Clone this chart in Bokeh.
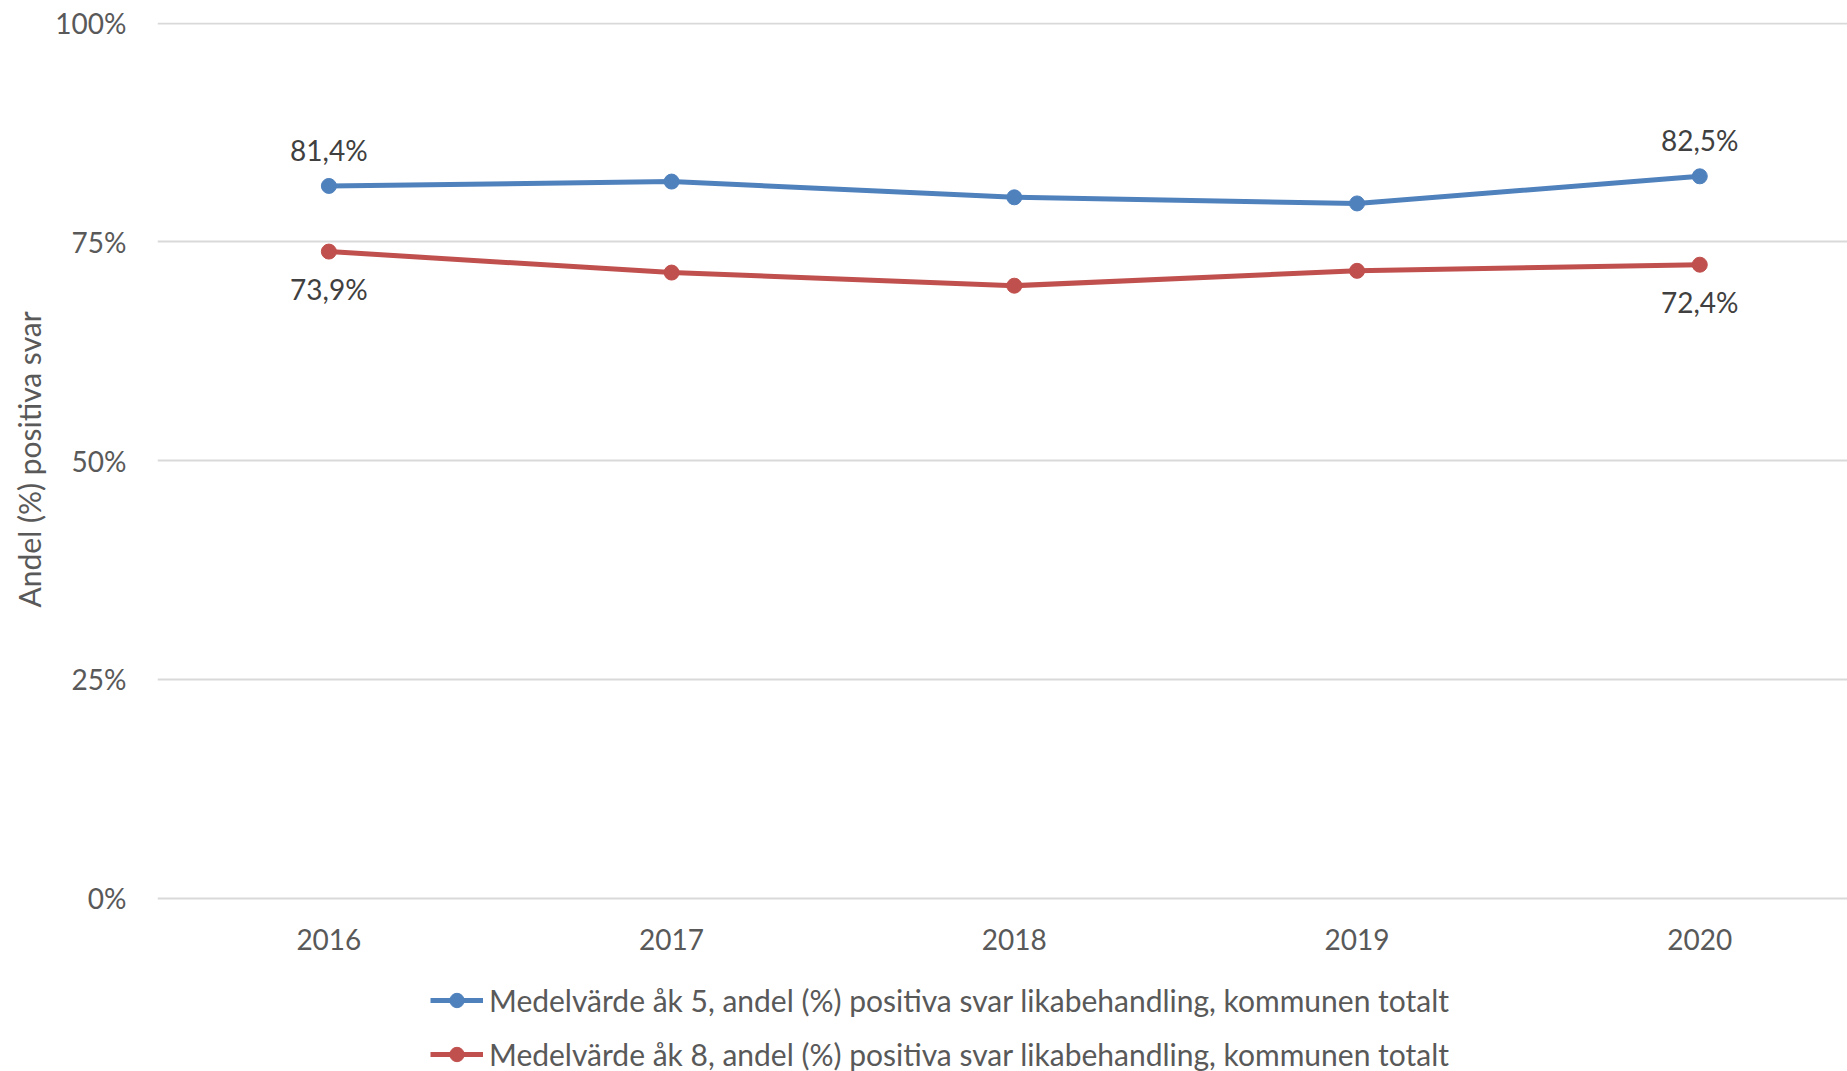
from bokeh.plotting import figure
from bokeh.models import (ColumnDataSource, Range1d, FixedTicker, Legend, LegendItem,
                          LabelSet, Title)
from bokeh.core.properties import value
from bokeh.embed import file_html
from bokeh.resources import INLINE

# ---- data ----
years = ["2016", "2017", "2018", "2019", "2020"]
ak5 = [81.4, 81.9, 80.1, 79.4, 82.5]
ak8 = [73.9, 71.5, 70.0, 71.7, 72.4]
y_ticks = [0, 25, 50, 75, 100]
y_tick_labels = ["0%", "25%", "50%", "75%", "100%"]
name5 = "Medelvärde åk 5, andel (%) positiva svar likabehandling, kommunen totalt"
name8 = "Medelvärde åk 8, andel (%) positiva svar likabehandling, kommunen totalt"
y_title = "Andel (%) positiva svar"

BLUE = "#4F81BD"
RED = "#C0504D"
FONT = "Lato"
FS = "28px"

xs = list(range(len(years)))

# frame runs to the bottom of the page so that the legend below the axis is visible
p = figure(width=1847, height=1071, output_backend="svg", toolbar_location=None,
           x_range=Range1d(-0.5, 4.431), y_range=Range1d(-19.806, 100.08),
           min_border_left=157, min_border_right=0, min_border_top=22,
           min_border_bottom=0)
p.outline_line_color = None
p.background_fill_color = "white"
p.border_fill_color = "white"

# grid
p.xgrid.grid_line_color = None
p.ygrid.grid_line_color = "#D9D9D9"
p.ygrid.grid_line_width = 2
p.ygrid.ticker = FixedTicker(ticks=y_ticks)

# axes
p.xaxis.visible = False
p.yaxis.ticker = FixedTicker(ticks=y_ticks)
p.yaxis.major_label_overrides = {t: l for t, l in zip(y_ticks, y_tick_labels)}
ax = p.yaxis[0]
ax.axis_line_color = None
ax.major_tick_line_color = None
ax.minor_tick_line_color = None
ax.major_tick_in = 0
ax.major_tick_out = 0
ax.major_label_text_font = FONT
ax.major_label_text_font_size = FS
ax.major_label_text_color = "#595959"
ax.major_label_standoff = 31

# y-axis title, centred on the 0-100 % plot area
p.add_layout(Title(text=y_title, align="left", offset=464, standoff=12,
                   text_font=FONT, text_font_size="30px", text_font_style="normal",
                   text_color="#595959"), "left")

# category labels along the 0% line
cat_src = ColumnDataSource(dict(x=xs, t=years))
p.add_layout(LabelSet(x="x", y=0, text="t", source=cat_src, y_offset=-41,
                      text_align="center", text_baseline="middle",
                      text_font=value(FONT), text_font_size=value(FS),
                      text_color="#595959"))

src5 = ColumnDataSource(dict(x=xs, y=ak5))
src8 = ColumnDataSource(dict(x=xs, y=ak8))

l5 = p.line("x", "y", source=src5, line_color=BLUE, line_width=5)
m5 = p.scatter("x", "y", source=src5, size=15, fill_color=BLUE, line_color=BLUE)
l8 = p.line("x", "y", source=src8, line_color=RED, line_width=5)
m8 = p.scatter("x", "y", source=src8, size=15, fill_color=RED, line_color=RED)

# data labels at first and last point
def fmt(v):
    return f"{v:.1f}".replace(".", ",") + "%"

ends = [0, len(years) - 1]
lab5 = ColumnDataSource(dict(x=[xs[i] for i in ends], y=[ak5[i] for i in ends],
                             t=[fmt(ak5[i]) for i in ends]))
lab8 = ColumnDataSource(dict(x=[xs[i] for i in ends], y=[ak8[i] for i in ends],
                             t=[fmt(ak8[i]) for i in ends]))
for src, off in ((lab5, 36), (lab8, -37)):
    p.add_layout(LabelSet(x="x", y="y", text="t", source=src, y_offset=off,
                          text_align="center", text_baseline="middle",
                          text_font=value(FONT), text_font_size=value(FS),
                          text_color="#404040"))

legend = Legend(items=[LegendItem(label=name5, renderers=[l5, m5]),
                       LegendItem(label=name8, renderers=[l8, m8])],
                location=(273, -1), orientation="vertical",
                glyph_width=53, glyph_height=36, label_height=36, label_standoff=6,
                spacing=18, padding=0, margin=0,
                border_line_color=None, background_fill_alpha=0,
                label_text_font=FONT, label_text_font_size="30px",
                label_text_color="#595959")
p.add_layout(legend, "center")

open("out.html", "w").write(file_html(p, INLINE))
